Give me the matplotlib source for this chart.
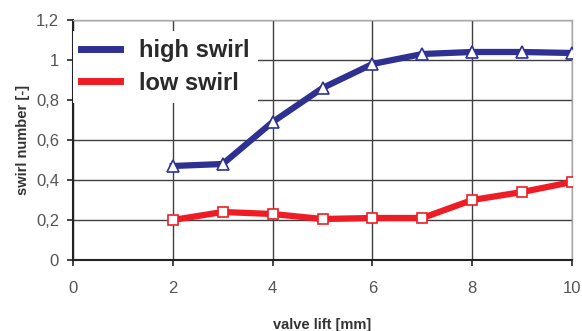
import numpy as np
import matplotlib
matplotlib.use("Agg")
from matplotlib import pyplot as plt

# valve lift [mm] and measured swirl numbers
lift = [2, 3, 4, 5, 6, 7, 8, 9, 10]
high_swirl = [0.47, 0.48, 0.69, 0.86, 0.98, 1.03, 1.04, 1.04, 1.035]
low_swirl = [0.20, 0.24, 0.23, 0.205, 0.21, 0.21, 0.30, 0.34, 0.39]

x_ticks = [0, 2, 4, 6, 8, 10]
y_ticks = [0, 0.2, 0.4, 0.6, 0.8, 1.0, 1.2]
y_labels = ["0", "0,2", "0,4", "0,6", "0,8", "1", "1,2"]

plt.rcParams['font.family'] = ['Liberation Sans', 'DejaVu Sans']

fig = plt.figure(figsize=(5.82, 3.31), dpi=100)
ax = fig.add_axes([0.1254, 0.2145, 0.8576, 0.7251])

ax.plot(lift, high_swirl, color='#2e3192', lw=4.5, marker='^', ms=8,
        mfc='white', mec='#2e3192', mew=1.2, label='high swirl', zorder=3)
ax.plot(lift, low_swirl, color='#ee1c24', lw=4.5, marker='s', ms=7,
        mfc='white', mec='#ee1c24', mew=1.2, label='low swirl', zorder=3)

ax.set_xlim(0, 10)
ax.set_ylim(0, 1.2)
ax.set_xticks(x_ticks)
ax.set_yticks(y_ticks)
ax.set_yticklabels(y_labels)
ax.grid(True, color='#404040', lw=1.0, zorder=1)
ax.set_axisbelow(True)

ax.tick_params(axis='both', direction='out', length=4, width=1.2, colors='#222222',
               labelsize=12, labelcolor='#555555', pad=6)
ax.tick_params(axis='x', pad=11)
for s in ['left', 'bottom']:
    ax.spines[s].set_color('#222222')
    ax.spines[s].set_linewidth(1.5)
for s in ['top', 'right']:
    ax.spines[s].set_color('#aaaaaa')
    ax.spines[s].set_linewidth(1.0)

ax.set_xlabel('valve lift [mm]', fontsize=10.5, fontweight='bold', color='#333333', labelpad=16)
ax.set_ylabel('swirl number [-]', fontsize=10.5, fontweight='bold', color='#333333', labelpad=4)

leg = ax.legend(loc='upper left', bbox_to_anchor=(0.0, 0.955),
                prop={'weight': 'bold', 'size': 17},
                frameon=True, fancybox=False, framealpha=1.0, borderaxespad=0,
                handlelength=1.65, handletextpad=0.8, labelspacing=0.4, borderpad=0.35)
leg.get_frame().set_edgecolor('none')
leg.get_frame().set_facecolor('white')
for h in leg.get_lines():
    h.set_marker('')
    h.set_linewidth(5)
for t in leg.get_texts():
    t.set_color('#2a2a2a')
leg.set_zorder(2.5)

fig.savefig('out.png', dpi=100)
